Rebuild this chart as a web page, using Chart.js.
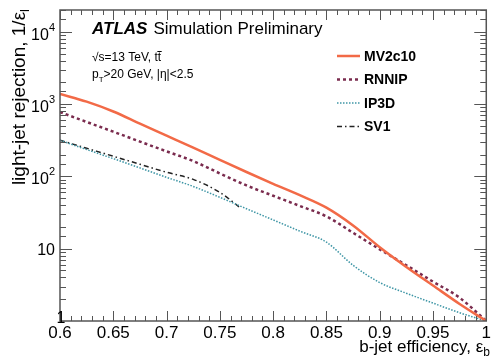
<!DOCTYPE html>
<html>
<head>
<meta charset="utf-8">
<script src="https://cdn.jsdelivr.net/npm/chart.js@4/dist/chart.umd.min.js"></script>
<style>
  html, body { margin: 0; padding: 0; background: #fff; }
  #wrap { width: 493px; height: 360px; }
</style>
</head>
<body>
<div id="wrap"><canvas id="rocChart" width="493" height="360"></canvas></div>
<script>
// b-jet efficiency points (x) and light-jet rejection
const effPoints = [0.6, 0.625, 0.65, 0.675, 0.7, 0.725, 0.75, 0.775, 0.8, 0.825, 0.85, 0.875, 0.9, 0.925, 0.95, 0.975, 1.0];
const mv2c10 = [1380, 1080, 790, 535, 365, 249, 169, 115, 79, 55, 37, 21, 10.5, 5.6, 3.1, 1.72, 1.0];
const rnnip  = [775, 566, 415, 303, 222, 163, 110, 75, 54, 39, 28, 16.6, 9.8, 5.9, 3.5, 2.1, 1.0];
const ip3d   = [316, 235, 176, 131, 97, 72.6, 51.3, 35.7, 25, 17.5, 12.3, 5.9, 3.4, 2.42, 1.77, 1.3, 1.0];
const effSV1 = [0.6, 0.625, 0.65, 0.675, 0.7, 0.725, 0.75, 0.77];
const sv1    = [316, 245, 190, 147, 114, 91, 60, 36];

const seriesNames = ['MV2c10', 'RNNIP', 'IP3D', 'SV1'];
const xTickLabels = [0.6, 0.65, 0.7, 0.75, 0.8, 0.85, 0.9, 0.95, 1];
const yMajorTicks = [1, 10, 100, 1000, 10000];

const FONT = '"Liberation Sans", Arial, Helvetica, sans-serif';

function toPoints(xs, ys) { return xs.map((x, i) => ({ x: x, y: ys[i] })); }

// frame, inside ticks, y labels, titles, annotations and legend, ROOT style
const atlasDecor = {
    id: 'atlasDecor',
    afterDraw(chart) {
        const ctx = chart.ctx;
        const { left, right, top, bottom } = chart.chartArea;
        const xs = chart.scales.x, ys = chart.scales.y;
        ctx.save();

        // frame
        ctx.strokeStyle = '#555';
        ctx.lineWidth = 1.5;
        ctx.strokeRect(left, top, right - left, bottom - top);

        // x ticks (bottom + top)
        ctx.lineWidth = 1;
        for (let i = 0; i <= 40; i++) {
            const v = 0.6 + i * 0.01;
            const px = Math.round(xs.getPixelForValue(v)) + 0.5;
            const len = (i % 5 === 0) ? 10 : 5;
            ctx.beginPath();
            ctx.moveTo(px, bottom); ctx.lineTo(px, bottom - len);
            ctx.moveTo(px, top); ctx.lineTo(px, top + len);
            ctx.stroke();
        }
        // y ticks (left + right), from the log scale's own ticks
        ys.ticks.forEach(t => {
            const py = Math.round(ys.getPixelForValue(t.value)) + 0.5;
            if (py < top || py > bottom) return;
            const major = yMajorTicks.includes(t.value);
            const len = major ? 12 : 6;
            ctx.beginPath();
            ctx.moveTo(left, py); ctx.lineTo(left + len, py);
            ctx.moveTo(right, py); ctx.lineTo(right - len, py);
            ctx.stroke();
        });

        // y tick labels
        ctx.fillStyle = '#000';
        ctx.textBaseline = 'alphabetic';
        yMajorTicks.forEach(v => {
            const py = ys.getPixelForValue(v);
            const exp = Math.round(Math.log10(v));
            if (exp === 0) {
                ctx.font = '16px ' + FONT;
                ctx.textAlign = 'center';
                ctx.fillText('1', left + 1, py + 2);
            } else if (exp === 1) {
                ctx.font = '16px ' + FONT;
                ctx.textAlign = 'right';
                ctx.fillText('10', 55, py + 6);
            } else {
                ctx.font = '11px ' + FONT;
                ctx.textAlign = 'right';
                ctx.fillText(String(exp), 55, py - 1);
                const w = ctx.measureText(String(exp)).width;
                ctx.font = '16px ' + FONT;
                ctx.fillText('10', 55 - w, py + 8);
            }
        });

        // y title, rotated, with subscript
        ctx.save();
        ctx.translate(25, 0);
        ctx.rotate(-Math.PI / 2);
        ctx.textAlign = 'left';
        ctx.font = '19px ' + FONT;
        const yMain = 'light-jet rejection, 1/\u03b5';
        const wMain = ctx.measureText(yMain).width;
        ctx.font = '13px ' + FONT;
        const wSub = ctx.measureText('l').width;
        const start = -(9 + wMain + wSub);
        ctx.font = '19px ' + FONT;
        ctx.fillText(yMain, start, 0);
        ctx.font = '13px ' + FONT;
        ctx.fillText('l', start + wMain, 4);
        ctx.restore();

        // x title with subscript
        ctx.textAlign = 'left';
        ctx.font = '12px ' + FONT;
        const wb = ctx.measureText('b').width;
        ctx.font = '17px ' + FONT;
        const xMain = 'b-jet efficiency, \u03b5';
        const wx = ctx.measureText(xMain).width;
        const xStart = 490 - wb - wx;
        ctx.fillText(xMain, xStart, 352);
        ctx.font = '12px ' + FONT;
        ctx.fillText('b', xStart + wx, 356);

        // ATLAS label
        ctx.font = 'italic bold 17px ' + FONT;
        ctx.fillText('ATLAS', 92, 34);
        const wa = ctx.measureText('ATLAS').width;
        ctx.font = '17px ' + FONT;
        ctx.fillText('Simulation Preliminary', 92 + wa + 6, 34);

        ctx.font = '12px ' + FONT;
        ctx.fillText('\u221as=13 TeV, t', 92, 61);
        const wt = ctx.measureText('\u221as=13 TeV, t').width;
        ctx.fillText('t', 92 + wt, 61);
        const wt2 = ctx.measureText('t').width;
        ctx.beginPath();
        ctx.lineWidth = 1;
        ctx.strokeStyle = '#000';
        ctx.moveTo(92 + wt - 0.5, 51.5); ctx.lineTo(92 + wt + wt2 + 0.5, 51.5);
        ctx.stroke();

        ctx.fillText('p', 92, 78);
        const wp = ctx.measureText('p').width;
        ctx.font = '8px ' + FONT;
        ctx.fillText('T', 92 + wp, 82);
        const wT = ctx.measureText('T').width;
        ctx.font = '12px ' + FONT;
        ctx.fillText('>20 GeV, |\u03b7|<2.5', 92 + wp + wT, 78);

        // legend
        chart.data.datasets.forEach((ds, i) => {
            const ly = 56 + i * 23.5;
            ctx.save();
            ctx.strokeStyle = ds.borderColor;
            ctx.lineWidth = ds.borderWidth;
            ctx.setLineDash(ds.borderDash || []);
            ctx.beginPath();
            ctx.moveTo(337, ly); ctx.lineTo(360, ly);
            ctx.stroke();
            ctx.restore();
            ctx.font = 'bold 14px ' + FONT;
            ctx.textBaseline = 'middle';
            ctx.fillStyle = '#000';
            ctx.fillText(ds.label, 364, ly + 1);
        });

        ctx.restore();
    }
};

const ctx = document.getElementById('rocChart').getContext('2d');
const rocChart = new Chart(ctx, {
    type: 'line',
    data: {
        datasets: [
            { label: seriesNames[0], data: toPoints(effPoints, mv2c10), borderColor: '#f26a47', borderWidth: 2.5, borderDash: [] },
            { label: seriesNames[1], data: toPoints(effPoints, rnnip), borderColor: '#7a2b4e', borderWidth: 2.5, borderDash: [3, 3] },
            { label: seriesNames[2], data: toPoints(effPoints, ip3d), borderColor: '#3f96a6', borderWidth: 1.5, borderDash: [1.5, 1.5] },
            { label: seriesNames[3], data: toPoints(effSV1, sv1), borderColor: '#222222', borderWidth: 1.5, borderDash: [5, 3, 1.5, 3] }
        ]
    },
    options: {
        responsive: false,
        animation: false,
        layout: { padding: { top: 10, right: 4, left: 0, bottom: 0 } },
        elements: { point: { radius: 0 }, line: { cubicInterpolationMode: 'monotone' } },
        plugins: { legend: { display: false }, tooltip: { enabled: false } },
        scales: {
            x: {
                type: 'linear', min: 0.6, max: 1,
                grid: { display: false, drawTicks: false },
                border: { display: false },
                ticks: {
                    stepSize: 0.05, padding: 2, color: '#000', maxRotation: 0,
                    font: { family: FONT, size: 17 },
                    callback: v => xTickLabels.some(t => Math.abs(t - v) < 1e-6) ? String(+v.toFixed(2)) : ''
                },
                afterFit: s => { s.height = 39; }
            },
            y: {
                type: 'logarithmic', min: 1, max: 20000,
                grid: { display: false, drawTicks: false },
                border: { display: false },
                ticks: { display: false },
                afterFit: s => { s.width = 60; }
            }
        }
    },
    plugins: [atlasDecor]
});
</script>
</body>
</html>
